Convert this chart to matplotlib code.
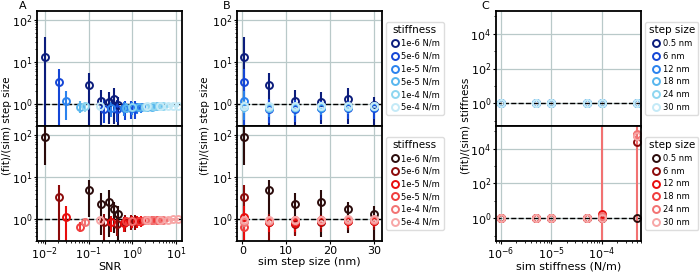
import numpy as np
import matplotlib
matplotlib.use("Agg")
import matplotlib.pyplot as plt
from matplotlib.ticker import LogLocator, NullFormatter
from matplotlib.lines import Line2D

plt.rcParams['font.family'] = ['DejaVu Sans']

# ---------------- data ----------------
stiffness_labels = ["1e-6 N/m", "5e-6 N/m", "1e-5 N/m", "5e-5 N/m", "1e-4 N/m", "5e-4 N/m"]
step_labels = ["0.5 nm", "6 nm", "12 nm", "18 nm", "24 nm", "30 nm"]
sim_steps = [0.5, 6, 12, 18, 24, 30]
sim_stiff = [1e-6, 5e-6, 1e-5, 5e-5, 1e-4, 5e-4]

# SNR per stiffness (rows) and step size (cols)
snr_1e6 = [0.010, 0.10, 0.19, 0.29, 0.39, 0.48]
snr_5e6 = [0.021, 0.23, 0.46, 0.69, 0.92, 1.15]
snr_1e5 = [0.030, 0.33, 0.65, 0.98, 1.30, 1.63]
snr_5e5 = [0.063, 0.73, 1.45, 2.20, 2.90, 3.60]
snr_1e4 = [0.085, 1.00, 2.00, 3.00, 4.00, 5.00]
snr_5e4 = [0.180, 2.20, 4.40, 6.60, 8.80, 11.0]

# (fit)/(sim) step size, per stiffness
step_1e6 = [13.5, 2.9, 1.2, 1.1, 1.35, 0.95]
step_5e6 = [3.3, 0.75, 0.75, 0.80, 0.80, 0.80]
step_1e5 = [1.2, 0.80, 0.80, 0.82, 0.85, 0.85]
step_5e5 = [0.85, 0.82, 0.85, 0.85, 0.87, 0.88]
step_1e4 = [0.88, 0.85, 0.87, 0.88, 0.90, 0.90]
step_5e4 = [0.90, 0.88, 0.90, 0.90, 0.92, 0.92]
step_lo_1e6 = [0.1, 0.1, 0.1, 0.33, 0.34, 0.1]
step_hi_1e6 = [39, 5.6, 2.2, 1.9, 2.4, 1.45]
step_lo_5e6 = [0.1, 0.35, 0.38, 0.42, 0.45, 0.45]
step_hi_5e6 = [6.8, 1.3, 1.25, 1.2, 1.2, 1.2]
step_lo_1e5 = [0.42, 0.5, 0.52, 0.55, 0.58, 0.6]
step_hi_1e5 = [2.0, 1.15, 1.12, 1.1, 1.08, 1.08]
step_lo_5e5 = [0.6, 0.62, 0.68, 0.7, 0.72, 0.74]
step_hi_5e5 = [1.2, 1.05, 1.03, 1.02, 1.02, 1.02]
step_lo_1e4 = [0.65, 0.7, 0.74, 0.76, 0.78, 0.8]
step_hi_1e4 = [1.15, 1.02, 1.0, 1.0, 1.0, 1.0]
step_lo_5e4 = [0.75, 0.78, 0.8, 0.82, 0.84, 0.85]
step_hi_5e4 = [1.05, 1.0, 1.0, 1.0, 1.0, 1.0]

# (fit)/(sim) stiffness, per stiffness
kr_1e6 = [90, 4.8, 2.3, 2.6, 1.7, 1.3]
kr_5e6 = [3.3, 0.85, 0.75, 0.85, 0.90, 0.90]
kr_1e5 = [1.15, 0.85, 0.80, 0.90, 0.90, 0.92]
kr_5e5 = [0.65, 0.88, 0.90, 0.95, 0.95, 0.95]
kr_1e4 = [0.85, 0.92, 0.95, 0.95, 0.97, 0.97]
kr_5e4 = [0.95, 0.95, 0.97, 0.97, 0.98, 0.98]
kr_lo_1e6 = [19, 1.15, 0.42, 0.38, 0.46, 0.2]
kr_hi_1e6 = [400, 8.5, 4.2, 4.9, 2.5, 2.1]
kr_lo_5e6 = [0.32, 0.2, 0.4, 0.5, 0.55, 0.55]
kr_hi_5e6 = [6.4, 1.35, 1.2, 1.25, 1.25, 1.25]
kr_lo_1e5 = [0.2, 0.5, 0.5, 0.6, 0.62, 0.65]
kr_hi_1e5 = [2.0, 1.2, 1.15, 1.2, 1.18, 1.18]
kr_lo_5e5 = [0.5, 0.65, 0.7, 0.75, 0.78, 0.8]
kr_hi_5e5 = [0.85, 1.15, 1.15, 1.15, 1.13, 1.12]
kr_lo_1e4 = [0.7, 0.75, 0.8, 0.82, 0.84, 0.85]
kr_hi_1e4 = [1.05, 1.12, 1.12, 1.1, 1.1, 1.1]
kr_lo_5e4 = [0.8, 0.82, 0.85, 0.87, 0.88, 0.88]
kr_hi_5e4 = [1.12, 1.1, 1.1, 1.08, 1.08, 1.08]

# panel C: (fit)/(sim) stiffness vs sim stiffness, per step size
c_top_05 = [1.0, 1.0, 1.0, 1.0, 1.0, 1.0]
c_top_6 = [1.0, 1.0, 1.0, 1.0, 1.0, 1.0]
c_top_12 = [1.0, 1.0, 1.0, 1.0, 1.0, 1.0]
c_top_18 = [1.0, 1.0, 1.0, 1.0, 1.0, 1.0]
c_top_24 = [1.0, 1.0, 1.0, 1.0, 1.0, 1.0]
c_top_30 = [1.0, 1.0, 1.0, 1.0, 1.0, 1.0]
c_bot_05 = [1.0, 1.0, 1.0, 1.0, 1.0, 1.0]
c_bot_6 = [1.0, 1.0, 1.0, 1.0, 1.0, 2.5e4]
c_bot_12 = [1.0, 1.0, 1.0, 1.0, 1.7, 6.5e4]
c_bot_18 = [1.0, 1.0, 1.0, 1.05, 1.0, 6.0e4]
c_bot_24 = [1.0, 1.0, 1.0, 1.1, 1.3, 7.0e4]
c_bot_30 = [1.0, 1.0, 1.0, 1.0, 1.0, 5.5e4]
c_bot_lo_24 = [1.0, 1.0, 1.0, 1.0, 1e-3, 1e-3]
c_bot_hi_24 = [1.0, 1.0, 1.0, 1.1, 1e8, 1e8]

blues = ["#0b1c7c", "#1446d6", "#2a82ee", "#58b6ee", "#8ed6f0", "#c4eaf7"]
reds = ["#2b0b0b", "#8c0a0a", "#e80c0c", "#f03c3c", "#f27272", "#f7a6a6"]

snr = [snr_1e6, snr_5e6, snr_1e5, snr_5e5, snr_1e4, snr_5e4]
step_r = [step_1e6, step_5e6, step_1e5, step_5e5, step_1e4, step_5e4]
step_lo = [step_lo_1e6, step_lo_5e6, step_lo_1e5, step_lo_5e5, step_lo_1e4, step_lo_5e4]
step_hi = [step_hi_1e6, step_hi_5e6, step_hi_1e5, step_hi_5e5, step_hi_1e4, step_hi_5e4]
kr = [kr_1e6, kr_5e6, kr_1e5, kr_5e5, kr_1e4, kr_5e4]
kr_lo = [kr_lo_1e6, kr_lo_5e6, kr_lo_1e5, kr_lo_5e5, kr_lo_1e4, kr_lo_5e4]
kr_hi = [kr_hi_1e6, kr_hi_5e6, kr_hi_1e5, kr_hi_5e5, kr_hi_1e4, kr_hi_5e4]
c_top = [c_top_05, c_top_6, c_top_12, c_top_18, c_top_24, c_top_30]
c_bot = [c_bot_05, c_bot_6, c_bot_12, c_bot_18, c_bot_24, c_bot_30]

# ---------------- figure ----------------
fig = plt.figure(figsize=(7.0, 2.72), dpi=100)
W, H = 700.0, 272.0
lefts = [37, 237, 496]
aw = 145
top_y, mid_y, bot_y = 11, 126, 241

def add(l, t, b):
    return fig.add_axes([l / W, 1 - b / H, aw / W, (b - t) / H])

GRID = "#b9c9c9"
ekw = dict(fmt='o', mfc='none', ms=5, mew=1.4, elinewidth=1.5, capsize=0)

axes = []
for l in lefts:
    at = add(l, top_y, mid_y)
    ab = add(l, mid_y, bot_y)
    ab.sharex(at)
    axes.append((at, ab))

def style(ax):
    ax.grid(True, color=GRID, lw=0.9)
    ax.set_axisbelow(True)
    for s in ax.spines.values():
        s.set_linewidth(1.3)
        s.set_color('black')
    ax.tick_params(labelsize=8, width=0.8, length=2.5, pad=1.0)
    ax.tick_params(which='minor', width=0.6, length=1.5)
    ax.axhline(1.0, color='black', ls='--', lw=1.0, zorder=1.5)

def err(y, lo, hi):
    y = np.asarray(y); lo = np.asarray(lo); hi = np.asarray(hi)
    return [y - lo, hi - y]

# Panel A
aA_t, aA_b = axes[0]
for i in range(6):
    aA_t.errorbar(snr[i], step_r[i], yerr=err(step_r[i], step_lo[i], step_hi[i]),
                  color=blues[i], **ekw)
    aA_b.errorbar(snr[i], kr[i], yerr=err(kr[i], kr_lo[i], kr_hi[i]),
                  color=reds[i], **ekw)
for ax in (aA_t, aA_b):
    ax.set_xscale('log'); ax.set_yscale('log')
    ax.set_ylim(0.3, 165)
    style(ax)
aA_t.set_xlim(10**-2.18, 10**1.14)
aA_b.set_xlabel('SNR', fontsize=8, labelpad=-0.5)

# Panel B
aB_t, aB_b = axes[1]
for i in range(6):
    aB_t.errorbar(sim_steps, step_r[i], yerr=err(step_r[i], step_lo[i], step_hi[i]),
                  color=blues[i], **ekw)
    aB_b.errorbar(sim_steps, kr[i], yerr=err(kr[i], kr_lo[i], kr_hi[i]),
                  color=reds[i], **ekw)
for ax in (aB_t, aB_b):
    ax.set_yscale('log')
    ax.set_ylim(0.3, 165)
    style(ax)
aB_t.set_xlim(-1.2, 31.8)
aB_t.set_xticks([0, 10, 20, 30])
aB_b.set_xlabel('sim step size (nm)', fontsize=8, labelpad=0.5)

# Panel C
aC_t, aC_b = axes[2]
for i in range(6):
    aC_t.errorbar(sim_stiff, c_top[i], color=blues[i], **ekw)
    if i == 4:
        aC_b.errorbar(sim_stiff, c_bot[i], yerr=err(c_bot[i], c_bot_lo_24, c_bot_hi_24),
                      color=reds[i], **ekw)
    else:
        aC_b.errorbar(sim_stiff, c_bot[i], color=reds[i], **ekw)
for ax in (aC_t, aC_b):
    ax.set_xscale('log'); ax.set_yscale('log')
    ax.set_ylim(0.05, 2e5)
    ax.set_yticks([1, 1e2, 1e4])
    ax.yaxis.set_minor_locator(LogLocator(base=10, subs=(1.0,), numticks=20))
    ax.yaxis.set_minor_formatter(NullFormatter())
    style(ax)
aC_t.set_xlim(10**-6.1, 10**-3.22)
aC_b.set_xlabel('sim stiffness (N/m)', fontsize=8, labelpad=-0.5)

for at, ab in axes:
    at.tick_params(labelbottom=False)

# legends
legkw = dict(loc='center left', borderaxespad=0, fontsize=6, title_fontsize=7.5,
             handletextpad=0.2, handlelength=1.2, labelspacing=0.45,
             borderpad=0.4, framealpha=1.0, edgecolor='#dddddd')

def handles(colors):
    return [Line2D([], [], ls='none', marker='o', mfc='none', ms=5, mew=1.4, color=c)
            for c in colors]

aB_t.legend(handles(blues), stiffness_labels, title='stiffness', bbox_to_anchor=(1.03, 0.5), **legkw)
aB_b.legend(handles(reds), stiffness_labels, title='stiffness', bbox_to_anchor=(1.03, 0.5), **legkw)
aC_t.legend(handles(blues), step_labels, title='step size', bbox_to_anchor=(1.03, 0.5), **legkw)
aC_b.legend(handles(reds), step_labels, title='step size', bbox_to_anchor=(1.03, 0.5), **legkw)

# y labels spanning both rows
ymid = 1 - mid_y / H
fig.text(7 / W, ymid, '(fit)/(sim) step size', rotation=90, ha='center', va='center', fontsize=7.5)
fig.text(205 / W, ymid, '(fit)/(sim) step size', rotation=90, ha='center', va='center', fontsize=7.5)
fig.text(465 / W, ymid, '(fit)/(sim) stiffness', rotation=90, ha='center', va='center', fontsize=7.5)

# panel letters
fig.text(23 / W, 1 - 6 / H, 'A', ha='center', va='center', fontsize=8)
fig.text(227 / W, 1 - 6 / H, 'B', ha='center', va='center', fontsize=8)
fig.text(485 / W, 1 - 6 / H, 'C', ha='center', va='center', fontsize=8)

fig.savefig('out.png', dpi=100)
